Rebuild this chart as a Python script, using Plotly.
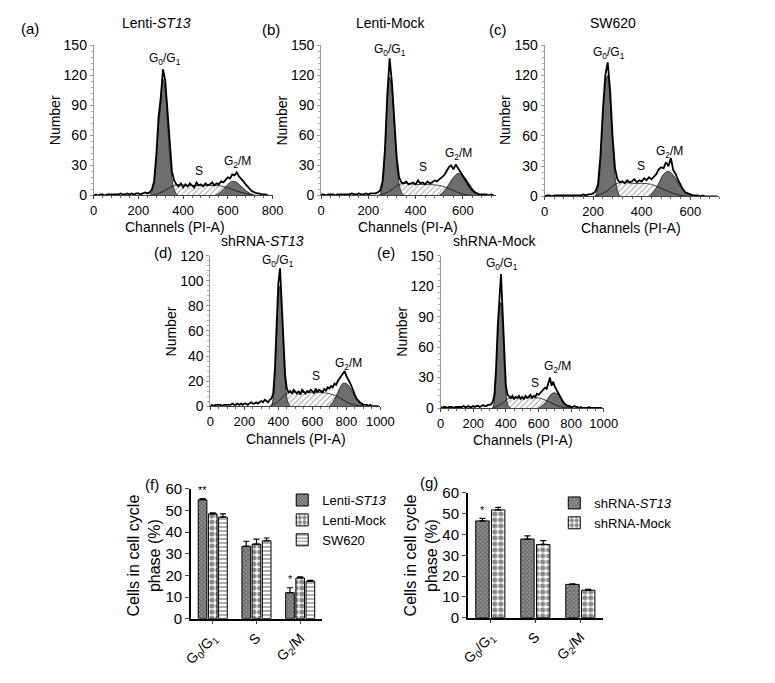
import plotly.graph_objects as go

W, H = 775, 683
OFF = 8  # the page body margin shifts the figure by 8 px
FONT = "Liberation Sans, Arial, sans-serif"

# ---------------- DNA content histograms, counts read every 10 channels ----------------
ch_a = list(range(0, 790, 10))
raw_a = [0, 1, 0, 1, 1, 0, 1, 1, 1, 1,
         1, 1, 2, 1, 1, 2, 1, 2, 1, 2,
         2, 1, 2, 3, 2, 3, 6, 14, 40, 78,
         98, 126, 115, 82, 46, 24, 15, 11, 9, 12,
         8, 11, 9, 12, 10, 8, 13, 10, 11, 9,
         12, 10, 11, 13, 10, 12, 11, 14, 13, 16,
         18, 17, 21, 20, 23, 19, 17, 14, 11, 8,
         6, 4, 3, 2, 2, 1, 1, 1, 0]
g1_a_x = [250, 260, 270, 280, 290, 300, 310, 320, 330, 340, 350, 360, 370, 380]
g1_a_y = [0, 4, 12, 36, 70, 92, 116, 106, 74, 40, 17, 6, 1.5, 0]
s_a_x = [260, 290, 320, 350, 380, 420, 480, 540, 580, 620, 660, 700, 730]
s_a_y = [0, 2, 5, 9, 11, 10, 10, 10, 9, 6, 3, 1, 0]
g2_a_x = [540, 560, 580, 600, 620, 640, 660, 680, 700, 720]
g2_a_y = [0, 2, 6, 11, 14, 13, 9, 5, 2, 0]

ch_b = list(range(0, 740, 10))
raw_b = [1, 1, 0, 1, 1, 1, 0, 1, 1, 1,
         1, 1, 1, 2, 1, 1, 2, 1, 1, 2,
         1, 2, 2, 2, 3, 5, 14, 45, 100, 137,
         112, 75, 38, 18, 13, 12, 14, 11, 12, 13,
         11, 15, 12, 13, 11, 14, 12, 13, 15, 14,
         16, 18, 20, 24, 28, 30, 26, 31, 27, 24,
         20, 15, 11, 8, 5, 3, 2, 1, 1, 1,
         1, 0, 1, 0]
g1_b_x = [250, 260, 270, 280, 290, 300, 310, 320, 330, 340, 350]
g1_b_y = [0, 10, 40, 90, 118, 104, 68, 32, 11, 3, 0]
s_b_x = [240, 270, 300, 330, 360, 400, 450, 500, 530, 560, 590, 620, 650]
s_b_y = [0, 2, 6, 11, 12, 11, 11, 10, 8, 5, 2, 0.5, 0]
g2_b_x = [500, 520, 540, 560, 580, 600, 620, 640, 660, 680]
g2_b_y = [0, 4, 11, 18, 22, 20, 14, 7, 2, 0]

ch_c = list(range(0, 720, 10))
raw_c = [0, 1, 1, 0, 1, 1, 1, 1, 1, 1,
         1, 1, 1, 1, 1, 1, 2, 1, 2, 2,
         3, 5, 12, 40, 85, 120, 133, 105, 60, 28,
         17, 14, 15, 13, 16, 14, 15, 17, 14, 16,
         15, 18, 16, 19, 17, 20, 22, 27, 29, 28,
         34, 30, 38, 26, 22, 16, 11, 7, 4, 3,
         2, 1, 1, 1, 0, 1, 0, 0, 0, 0, 0, 0]
g1_c_x = [210, 220, 230, 240, 250, 260, 270, 280, 290, 300, 310]
g1_c_y = [0, 8, 34, 78, 110, 120, 94, 52, 20, 6, 0]
s_c_x = [200, 230, 260, 290, 320, 360, 400, 440, 470, 500, 530, 560, 590]
s_c_y = [0, 2, 6, 12, 14, 13, 13, 12, 9, 6, 3, 1, 0]
g2_c_x = [430, 450, 470, 490, 510, 530, 550, 570, 590, 610]
g2_c_y = [0, 5, 13, 22, 25, 21, 13, 6, 2, 0]

ch_d = list(range(0, 1000, 10))
raw_d = [0, 1, 0, 1, 1, 1, 1, 0, 1, 1,
         1, 1, 1, 2, 1, 1, 2, 1, 2, 1,
         2, 2, 1, 2, 3, 2, 2, 3, 2, 3,
         4, 3, 5, 4, 3, 5, 6, 10, 30, 65,
         98, 110, 85, 50, 25, 14, 11, 12, 10, 13,
         11, 10, 12, 9, 13, 11, 10, 12, 11, 13,
         12, 10, 14, 11, 13, 12, 11, 14, 12, 15,
         14, 16, 15, 18, 17, 20, 22, 25, 26, 28,
         24, 22, 19, 16, 12, 9, 6, 4, 3, 2,
         1, 1, 1, 0, 1, 0, 0, 0, 0, 0]
g1_d_x = [360, 370, 380, 390, 400, 410, 420, 430, 440, 450, 460, 470]
g1_d_y = [0, 6, 24, 56, 86, 96, 76, 44, 20, 7, 2, 0]
s_d_x = [350, 380, 410, 440, 470, 520, 580, 640, 700, 740, 780, 820, 860, 900]
s_d_y = [0, 2, 5, 9, 11, 11, 11, 11, 10, 8, 5, 2, 0.5, 0]
g2_d_x = [700, 720, 740, 760, 780, 800, 820, 840, 860, 880, 900]
g2_d_y = [0, 3, 8, 14, 18, 18, 15, 10, 5, 2, 0]

ch_e = list(range(0, 1000, 10))
raw_e = [1, 0, 1, 1, 0, 1, 1, 1, 0, 1,
         1, 1, 1, 1, 2, 1, 1, 2, 1, 1,
         2, 1, 2, 2, 1, 2, 3, 2, 2, 3,
         3, 4, 6, 14, 40, 80, 108, 132, 95, 50,
         22, 13, 11, 10, 12, 9, 11, 10, 12, 9,
         11, 9, 12, 10, 11, 13, 10, 12, 11, 14,
         13, 15, 16, 18, 20, 19, 24, 30, 22, 26,
         21, 18, 15, 11, 8, 6, 4, 3, 2, 2,
         1, 1, 2, 1, 1, 0, 1, 0, 0, 0,
         0, 1, 0, 0, 0, 0, 0, 0, 0, 0]
g1_e_x = [320, 330, 340, 350, 360, 370, 380, 390, 400, 410, 420, 430]
g1_e_y = [0, 8, 32, 70, 98, 104, 80, 42, 16, 4, 1, 0]
s_e_x = [320, 350, 380, 410, 440, 480, 540, 600, 640, 680, 720, 760, 800]
s_e_y = [0, 2, 5, 9, 10, 10, 10, 10, 8, 5, 2, 0.5, 0]
g2_e_x = [600, 620, 640, 660, 680, 700, 720, 740, 760, 780, 800]
g2_e_y = [0, 2, 5, 10, 14, 15, 13, 9, 5, 2, 0]

# ---------------- bar charts ----------------
phases = ["G<sub>0</sub>/G<sub>1</sub>", "S", "G<sub>2</sub>/M"]
lenti_st13 = [55, 33.5, 12]
lenti_st13_err = [0.5, 2.3, 2.3]
lenti_mock = [48.5, 34.5, 18.8]
lenti_mock_err = [0.5, 2.3, 0.5]
sw620 = [47, 36, 17.3]
sw620_err = [1.5, 1.3, 0.4]
sh_st13 = [46.5, 37.8, 16]
sh_st13_err = [1.2, 1.5, 0.3]
sh_mock = [51.8, 35.2, 13.2]
sh_mock_err = [1.2, 1.8, 0.4]


def dx(a, b):
    return [(a - OFF) / W, (b - OFF) / W]


def dy(top, bottom):
    return [1 - (bottom - OFF) / H, 1 - (top - OFF) / H]


def paper(px, py):
    return (px - OFF) / W, 1 - (py - OFF) / H


def label(txt, px, py, size, angle=0):
    x, y = paper(px, py)
    return dict(text=txt, x=x, y=y, xref="paper", yref="paper", showarrow=False,
                xanchor="center", yanchor="middle", textangle=angle,
                font=dict(size=size, color="black"))


fig = go.Figure()

hists = [
    dict(tag="(a)", title="Lenti-<i>ST13</i>", ch=ch_a, raw=raw_a,
         g1=(g1_a_x, g1_a_y), s=(s_a_x, s_a_y), g2=(g2_a_x, g2_a_y), peak=310,
         xr=800, ymax=150, box=(88, 272, 37, 191),
         lab=[(318, 136), (470, 24), (645, 33)], tagpos=(22, 20), titlepos=(153, 14),
         xtitle=(172, 223), ytitle=(48, 114)),
    dict(tag="(b)", title="Lenti-Mock", ch=ch_b, raw=raw_b,
         g1=(g1_b_x, g1_b_y), s=(s_b_x, s_b_y), g2=(g2_b_x, g2_b_y), peak=290,
         xr=740, ymax=150, box=(322, 502, 37, 191),
         lab=[(292, 145), (430, 28), (580, 41)], tagpos=(270, 21), titlepos=(393, 14),
         xtitle=(411, 223), ytitle=(282, 114)),
    dict(tag="(c)", title="SW620", ch=ch_c, raw=raw_c,
         g1=(g1_c_x, g1_c_y), s=(s_c_x, s_c_y), g2=(g2_c_x, g2_c_y), peak=260,
         xr=720, ymax=150, box=(552, 732, 37, 192),
         lab=[(264, 142), (395, 30), (515, 44)], tagpos=(504, 21), titlepos=(622, 14),
         xtitle=(641, 224), ytitle=(512, 114)),
    dict(tag="(d)", title="shRNA-<i>ST13</i>", ch=ch_d, raw=raw_d,
         g1=(g1_d_x, g1_d_y), s=(s_d_x, s_d_y), g2=(g2_d_x, g2_d_y), peak=410,
         xr=1000, ymax=120, box=(208, 383, 253, 407),
         lab=[(400, 116), (620, 24), (810, 34)], tagpos=(159, 250), titlepos=(262, 238),
         xtitle=(296, 441), ytitle=(168, 330)),
    dict(tag="(e)", title="shRNA-Mock", ch=ch_e, raw=raw_e,
         g1=(g1_e_x, g1_e_y), s=(s_e_x, s_e_y), g2=(g2_e_x, g2_e_y), peak=370,
         xr=1000, ymax=150, box=(445, 613, 253, 409),
         lab=[(378, 142), (580, 25), (715, 40)], tagpos=(389, 250), titlepos=(500, 238),
         xtitle=(530, 442), ytitle=(405, 331)),
]

annotations = []
for i, p in enumerate(hists, start=1):
    xa = "x" if i == 1 else f"x{i}"
    ya = "y" if i == 1 else f"y{i}"
    common = dict(xaxis=xa, yaxis=ya, showlegend=False, hoverinfo="skip")
    for comp in (p["g1"], p["g2"]):
        fig.add_trace(go.Scatter(x=comp[0], y=comp[1], mode="lines", fill="tozeroy",
                                 fillcolor="#6e6e6e",
                                 line=dict(color="#111", width=0.8, shape="spline"),
                                 **common))
    fig.add_trace(go.Scatter(x=p["s"][0], y=p["s"][1], mode="lines", fill="tozeroy",
                             fillpattern=dict(shape="/", fgcolor="#666", bgcolor="rgba(0,0,0,0)",
                                              size=4, solidity=0.3),
                             line=dict(color="#111", width=0.8, shape="spline"),
                             **common))
    fig.add_trace(go.Scatter(x=p["ch"], y=p["raw"], mode="lines",
                             line=dict(color="black", width=1.8), **common))
    fig.add_trace(go.Scatter(x=[p["peak"]], y=[-p["ymax"] * 0.025], mode="markers",
                             marker=dict(symbol="triangle-up", size=7, color="black"),
                             cliponaxis=False, **common))

    x0, x1, y0, y1 = p["box"]
    xkey = "xaxis" if i == 1 else f"xaxis{i}"
    ykey = "yaxis" if i == 1 else f"yaxis{i}"
    ydt = 20 if p["ymax"] == 120 else 30
    fig.update_layout({
        xkey: dict(domain=dx(x0, x1), range=[0, p["xr"]], anchor=ya, dtick=200, tick0=0,
                   showline=True, linecolor="#444", linewidth=1, ticks="outside", ticklen=3,
                   tickcolor="#444", showgrid=False, zeroline=False,
                   minor=dict(dtick=50 if p["xr"] == 1000 else 40, ticks="outside",
                              ticklen=2, tickcolor="#666"),
                   tickfont=dict(size=13, color="black")),
        ykey: dict(domain=dy(y0, y1), range=[0, p["ymax"]], anchor=xa, dtick=ydt,
                   showline=True, linecolor="#999", linewidth=1, ticks="outside", ticklen=3,
                   tickcolor="#999", showgrid=False, zeroline=False,
                   minor=dict(dtick=ydt / 5, ticks="outside", ticklen=2, tickcolor="#aaa"),
                   tickfont=dict(size=14, color="black")),
    })
    (gx, gy), (sx, sy), (mx, my) = p["lab"]
    for txt, ax_, ay_ in (("G<sub>0</sub>/G<sub>1</sub>", gx, gy), ("S", sx, sy),
                          ("G<sub>2</sub>/M", mx, my)):
        annotations.append(dict(text=txt, x=ax_, y=ay_, xref=xa, yref=ya, showarrow=False,
                                xanchor="center", yanchor="middle",
                                font=dict(size=12, color="black")))
    annotations += [
        label(p["title"], *p["titlepos"], 14),
        label(p["tag"], *p["tagpos"], 15),
        label("Channels (PI-A)", *p["xtitle"], 14),
        label("Number", *p["ytitle"], 14, angle=-90),
    ]

# ---------------- (f) and (g) ----------------
bar_styles = {
    "st13": dict(shape="x", size=3, solidity=0.5, fgcolor="#222", bgcolor="#999"),
    "mock": dict(shape=".", size=6, solidity=0.6, fgcolor="#111", bgcolor="white"),
    "sw": dict(shape="-", size=4, solidity=0.4, fgcolor="#333", bgcolor="white"),
}

f_series = [("Lenti-<i>ST13</i>", lenti_st13, lenti_st13_err, "st13"),
            ("Lenti-Mock", lenti_mock, lenti_mock_err, "mock"),
            ("SW620", sw620, sw620_err, "sw")]
g_series = [("shRNA-<i>ST13</i>", sh_st13, sh_st13_err, "st13"),
            ("shRNA-Mock", sh_mock, sh_mock_err, "mock")]

for n, series, leg in ((6, f_series, "legend"), (7, g_series, "legend2")):
    for name, vals, err, sty in series:
        fig.add_trace(go.Bar(
            x=phases, y=vals, name=name, xaxis=f"x{n}", yaxis=f"y{n}", legend=leg,
            marker=dict(color="white", line=dict(color="black", width=1), pattern=bar_styles[sty]),
            error_y=dict(type="data", array=err, arrayminus=[0] * len(err), color="black",
                         thickness=1.2, width=3),
            hoverinfo="skip"))

bar_boxes = {6: (188, 323, 492, 625), 7: (473, 612, 496, 624)}
for n, (x0, x1, y0, y1) in bar_boxes.items():
    fig.update_layout({
        f"xaxis{n}": dict(domain=dx(x0, x1), anchor=f"y{n}", showline=True, linecolor="black",
                          linewidth=1.5, ticks="outside", ticklen=4, tickangle=-45,
                          tickfont=dict(size=14, color="black"), showgrid=False),
        f"yaxis{n}": dict(domain=dy(y0, y1), anchor=f"x{n}", range=[0, 60], dtick=10,
                          showline=True, linecolor="black", linewidth=1.5, ticks="outside",
                          ticklen=4, showgrid=False, zeroline=False,
                          tickfont=dict(size=15, color="black")),
    })

# significance marks over the ST13 bars
annotations += [
    dict(text="**", x=-0.233, y=lenti_st13[0] + lenti_st13_err[0] + 0.5, xref="x6", yref="y6",
         showarrow=False, yanchor="bottom", font=dict(size=11, color="black")),
    dict(text="*", x=1.767, y=lenti_st13[2] + lenti_st13_err[2] + 0.3, xref="x6", yref="y6",
         showarrow=False, yanchor="bottom", font=dict(size=11, color="black")),
    dict(text="*", x=-0.175, y=sh_st13[0] + sh_st13_err[0] + 0.3, xref="x7", yref="y7",
         showarrow=False, yanchor="bottom", font=dict(size=11, color="black")),
    label("(f)", 148, 487, 15),
    label("(g)", 433, 485, 15),
    label("Cells in cell cycle<br>phase (%)", 140, 560, 16, angle=-90),
    label("Cells in cell cycle<br>phase (%)", 425, 560, 16, angle=-90),
]

lf = paper(282, 488)
lg = paper(562, 491)
fig.update_layout(
    width=W, height=H, margin=dict(l=0, r=0, t=0, b=0),
    paper_bgcolor="white", plot_bgcolor="white",
    font=dict(family=FONT, color="black"),
    barmode="group", bargap=0.3, bargroupgap=0.15,
    annotations=annotations,
    legend=dict(x=lf[0], y=lf[1], xanchor="left", yanchor="top",
                font=dict(size=13), bgcolor="rgba(0,0,0,0)", tracegroupgap=0),
    legend2=dict(x=lg[0], y=lg[1], xanchor="left", yanchor="top",
                 font=dict(size=13), bgcolor="rgba(0,0,0,0)", tracegroupgap=0),
)

fig.write_html("out.html")
